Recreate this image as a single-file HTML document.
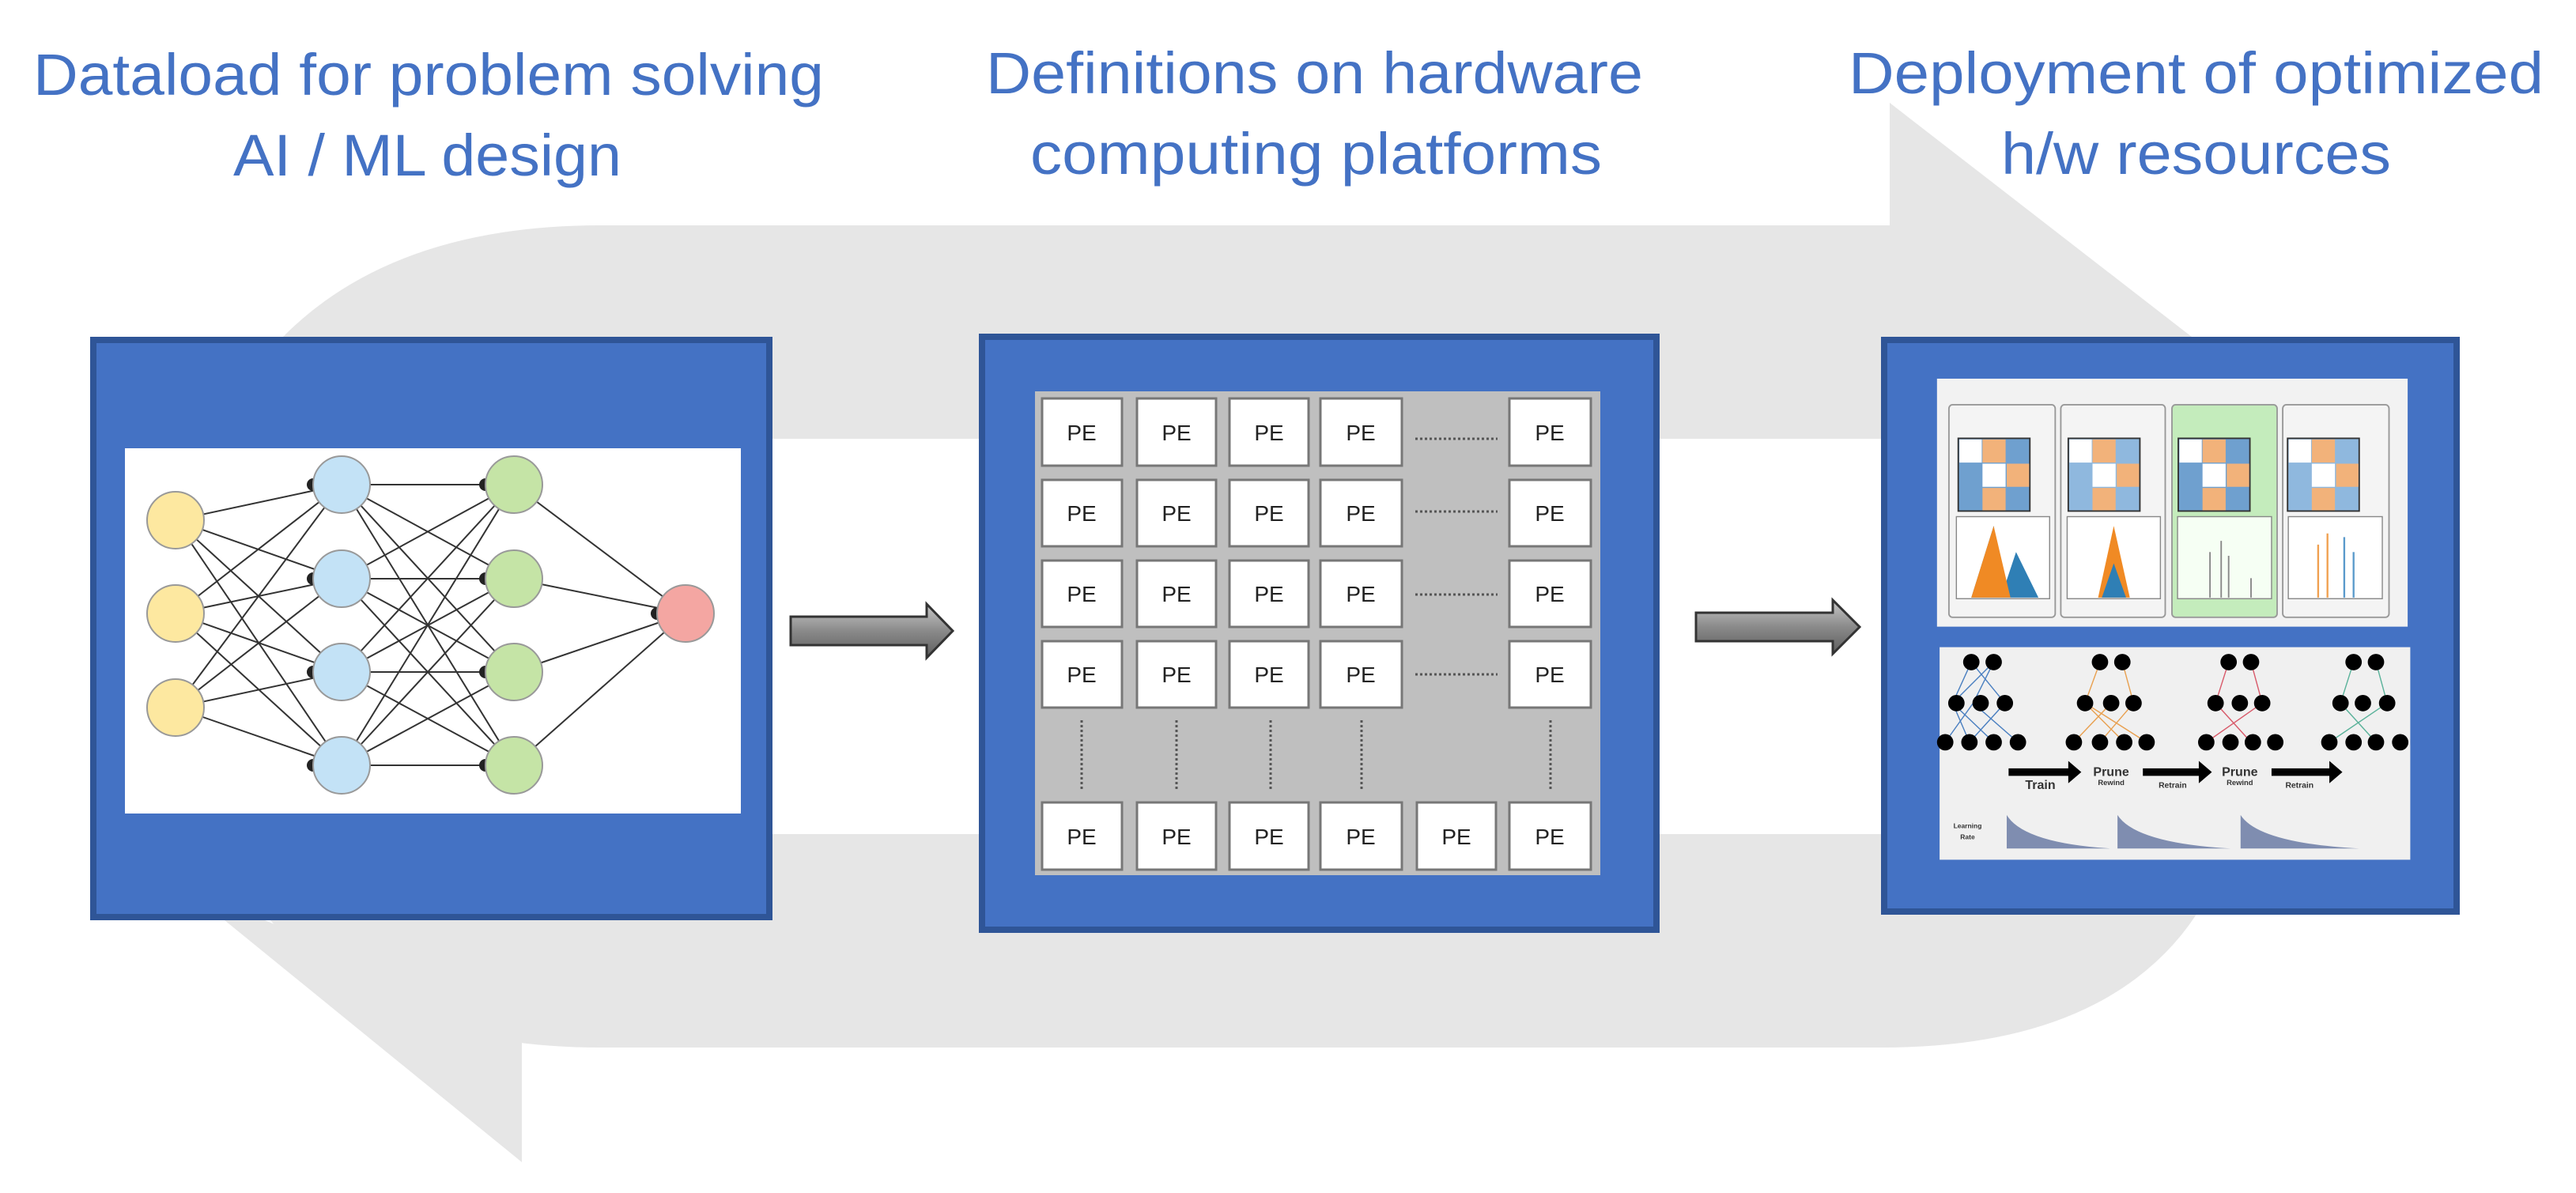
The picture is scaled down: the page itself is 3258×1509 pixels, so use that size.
<!DOCTYPE html>
<html><head><meta charset="utf-8"><style>
html,body{margin:0;padding:0;background:#fff;}
svg{display:block;}
</style></head><body>
<svg width="3258" height="1509" viewBox="0 0 3258 1509" xmlns="http://www.w3.org/2000/svg" font-family="'Liberation Sans', sans-serif">
<defs>
<linearGradient id="ag" x1="0" y1="0" x2="0" y2="1">
<stop offset="0" stop-color="#c8c8c8"/><stop offset="0.5" stop-color="#8a8a8a"/><stop offset="1" stop-color="#5e5e5e"/>
</linearGradient>
</defs>
<!-- big grey loop arrow -->
<g fill="none" stroke="#e6e6e6" stroke-width="270">
<path d="M2420 420 H760 Q360 420 360 800 Q360 1190 760 1190 H2380 Q2700 1190 2700 950"/>
</g>
<polygon points="2390,130 2790,440 2700,820 2390,760" fill="#e6e6e6"/>
<polygon points="230,1120 660,1300 660,1470" fill="#e6e6e6"/>

<!-- titles -->
<g fill="#4472C4" font-size="74">
<text x="42" y="120" textLength="1000" lengthAdjust="spacingAndGlyphs">Dataload for problem solving</text>
<text x="295" y="222" textLength="491" lengthAdjust="spacingAndGlyphs">AI / ML design</text>
<text x="1247" y="118" textLength="831" lengthAdjust="spacingAndGlyphs">Definitions on hardware</text>
<text x="1303" y="220" textLength="723" lengthAdjust="spacingAndGlyphs">computing platforms</text>
<text x="2338" y="118" textLength="879" lengthAdjust="spacingAndGlyphs">Deployment of optimized</text>
<text x="2531" y="220" textLength="493" lengthAdjust="spacingAndGlyphs">h/w resources</text>
</g>

<!-- boxes -->
<rect x="118" y="430" width="855" height="730" fill="#4472C4" stroke="#2f5597" stroke-width="8"/>
<rect x="1242" y="426" width="853" height="750" fill="#4472C4" stroke="#2f5597" stroke-width="8"/>
<rect x="2383" y="430" width="724" height="723" fill="#4472C4" stroke="#2f5597" stroke-width="8"/>

<!-- box1 neural net -->
<rect x="158" y="567" width="779" height="462" fill="#fff"/>
<g stroke="#333" stroke-width="2">
<g id="l1">
<line x1="222" y1="658" x2="432" y2="613"/><line x1="222" y1="658" x2="432" y2="732"/><line x1="222" y1="658" x2="432" y2="850"/><line x1="222" y1="658" x2="432" y2="968"/>
<line x1="222" y1="776" x2="432" y2="613"/><line x1="222" y1="776" x2="432" y2="732"/><line x1="222" y1="776" x2="432" y2="850"/><line x1="222" y1="776" x2="432" y2="968"/>
<line x1="222" y1="895" x2="432" y2="613"/><line x1="222" y1="895" x2="432" y2="732"/><line x1="222" y1="895" x2="432" y2="850"/><line x1="222" y1="895" x2="432" y2="968"/>
</g>
<line x1="432" y1="613" x2="650" y2="613"/><line x1="432" y1="613" x2="650" y2="732"/><line x1="432" y1="613" x2="650" y2="850"/><line x1="432" y1="613" x2="650" y2="968"/>
<line x1="432" y1="732" x2="650" y2="613"/><line x1="432" y1="732" x2="650" y2="732"/><line x1="432" y1="732" x2="650" y2="850"/><line x1="432" y1="732" x2="650" y2="968"/>
<line x1="432" y1="850" x2="650" y2="613"/><line x1="432" y1="850" x2="650" y2="732"/><line x1="432" y1="850" x2="650" y2="850"/><line x1="432" y1="850" x2="650" y2="968"/>
<line x1="432" y1="968" x2="650" y2="613"/><line x1="432" y1="968" x2="650" y2="732"/><line x1="432" y1="968" x2="650" y2="850"/><line x1="432" y1="968" x2="650" y2="968"/>
<line x1="650" y1="613" x2="867" y2="776"/><line x1="650" y1="732" x2="867" y2="776"/><line x1="650" y1="850" x2="867" y2="776"/><line x1="650" y1="968" x2="867" y2="776"/>
</g>
<g fill="#222">
<circle cx="396" cy="613" r="8"/><circle cx="396" cy="732" r="8"/><circle cx="396" cy="850" r="8"/><circle cx="396" cy="968" r="8"/>
<circle cx="614" cy="613" r="8"/><circle cx="614" cy="732" r="8"/><circle cx="614" cy="850" r="8"/><circle cx="614" cy="968" r="8"/>
<circle cx="831" cy="776" r="8"/>
</g>
<g stroke="#999" stroke-width="2">
<circle cx="222" cy="658" r="36" fill="#fde8a0"/><circle cx="222" cy="776" r="36" fill="#fde8a0"/><circle cx="222" cy="895" r="36" fill="#fde8a0"/>
<circle cx="432" cy="613" r="36" fill="#c3e2f6"/><circle cx="432" cy="732" r="36" fill="#c3e2f6"/><circle cx="432" cy="850" r="36" fill="#c3e2f6"/><circle cx="432" cy="968" r="36" fill="#c3e2f6"/>
<circle cx="650" cy="613" r="36" fill="#c5e4a6"/><circle cx="650" cy="732" r="36" fill="#c5e4a6"/><circle cx="650" cy="850" r="36" fill="#c5e4a6"/><circle cx="650" cy="968" r="36" fill="#c5e4a6"/>
<circle cx="867" cy="776" r="36" fill="#f4a6a2"/>
</g>

<!-- arrows -->
<polygon points="1000,780 1172,780 1172,764 1205,798 1172,832 1172,816 1000,816" fill="url(#ag)" stroke="#333" stroke-width="3"/>
<polygon points="2145,775 2318,775 2318,759 2352,793 2318,827 2318,811 2145,811" fill="url(#ag)" stroke="#333" stroke-width="3"/>

<!-- PE grid -->
<rect x="1309" y="495" width="715" height="612" fill="#bfbfbf"/>
<g fill="#fff" stroke="#777" stroke-width="3">
<rect x="1318" y="504" width="101" height="85"/><rect x="1438" y="504" width="100" height="85"/><rect x="1555" y="504" width="100" height="85"/><rect x="1670" y="504" width="103" height="85"/><rect x="1909" y="504" width="103" height="85"/>
<rect x="1318" y="607" width="101" height="84"/><rect x="1438" y="607" width="100" height="84"/><rect x="1555" y="607" width="100" height="84"/><rect x="1670" y="607" width="103" height="84"/><rect x="1909" y="607" width="103" height="84"/>
<rect x="1318" y="709" width="101" height="84"/><rect x="1438" y="709" width="100" height="84"/><rect x="1555" y="709" width="100" height="84"/><rect x="1670" y="709" width="103" height="84"/><rect x="1909" y="709" width="103" height="84"/>
<rect x="1318" y="811" width="101" height="84"/><rect x="1438" y="811" width="100" height="84"/><rect x="1555" y="811" width="100" height="84"/><rect x="1670" y="811" width="103" height="84"/><rect x="1909" y="811" width="103" height="84"/>
<rect x="1318" y="1015" width="101" height="85"/><rect x="1438" y="1015" width="100" height="85"/><rect x="1555" y="1015" width="100" height="85"/><rect x="1670" y="1015" width="103" height="85"/><rect x="1792" y="1015" width="100" height="85"/><rect x="1909" y="1015" width="103" height="85"/>
</g>
<g font-size="28" fill="#222" text-anchor="middle">
<text x="1368" y="557">PE</text><text x="1488" y="557">PE</text><text x="1605" y="557">PE</text><text x="1721" y="557">PE</text><text x="1960" y="557">PE</text>
<text x="1368" y="659">PE</text><text x="1488" y="659">PE</text><text x="1605" y="659">PE</text><text x="1721" y="659">PE</text><text x="1960" y="659">PE</text>
<text x="1368" y="761">PE</text><text x="1488" y="761">PE</text><text x="1605" y="761">PE</text><text x="1721" y="761">PE</text><text x="1960" y="761">PE</text>
<text x="1368" y="863">PE</text><text x="1488" y="863">PE</text><text x="1605" y="863">PE</text><text x="1721" y="863">PE</text><text x="1960" y="863">PE</text>
<text x="1368" y="1068">PE</text><text x="1488" y="1068">PE</text><text x="1605" y="1068">PE</text><text x="1721" y="1068">PE</text><text x="1842" y="1068">PE</text><text x="1960" y="1068">PE</text>
</g>
<g stroke="#555" stroke-width="3" stroke-dasharray="3,3">
<line x1="1790" y1="555" x2="1894" y2="555"/><line x1="1790" y1="647" x2="1894" y2="647"/><line x1="1790" y1="752" x2="1894" y2="752"/><line x1="1790" y1="853" x2="1894" y2="853"/>
<line x1="1368" y1="911" x2="1368" y2="998"/><line x1="1488" y1="911" x2="1488" y2="998"/><line x1="1607" y1="911" x2="1607" y2="998"/><line x1="1722" y1="911" x2="1722" y2="998"/><line x1="1961" y1="911" x2="1961" y2="998"/>
</g>

<!-- box3 content (zoom coords scaled) -->
<g transform="translate(2380,420) scale(0.4717)">
<rect x="148" y="125" width="1262" height="665" fill="#f2f2f2"/>
<g stroke="#999" stroke-width="4">
<rect x="180" y="195" width="285" height="570" rx="10" fill="#f4f4f4"/>
<rect x="480" y="195" width="280" height="570" rx="10" fill="#f4f4f4"/>
<rect x="778" y="195" width="282" height="570" rx="10" fill="#c4ecbc"/>
<rect x="1075" y="195" width="285" height="570" rx="10" fill="#f4f4f4"/>
</g>
<g stroke="#333" stroke-width="4">
<rect x="205" y="285" width="192" height="195" fill="#6fa0cf"/>
<rect x="500" y="285" width="192" height="195" fill="#8fb8de"/>
<rect x="795" y="285" width="192" height="195" fill="#6fa0cf"/>
<rect x="1088" y="285" width="192" height="195" fill="#8fb8de"/>
</g>
<g fill="#f2b27a">
<rect x="270" y="288" width="62" height="62"/><rect x="335" y="353" width="60" height="62"/><rect x="270" y="418" width="62" height="60"/>
<rect x="565" y="288" width="62" height="62"/><rect x="630" y="353" width="60" height="62"/><rect x="565" y="418" width="62" height="60"/>
<rect x="860" y="288" width="62" height="62"/><rect x="925" y="353" width="60" height="62"/><rect x="860" y="418" width="62" height="60"/>
<rect x="1153" y="288" width="62" height="62"/><rect x="1218" y="353" width="60" height="62"/><rect x="1153" y="418" width="62" height="60"/>
</g>
<g fill="#fff">
<rect x="208" y="288" width="60" height="62"/><rect x="270" y="353" width="62" height="62"/>
<rect x="503" y="288" width="60" height="62"/><rect x="565" y="353" width="62" height="62"/>
<rect x="798" y="288" width="60" height="62"/><rect x="860" y="353" width="62" height="62"/>
<rect x="1091" y="288" width="60" height="62"/><rect x="1153" y="353" width="62" height="62"/>
</g>
<g stroke="#888" stroke-width="3" fill="#fff">
<rect x="200" y="495" width="250" height="220"/><rect x="497" y="495" width="250" height="220"/><rect x="793" y="495" width="252" height="220" fill="#f6fff4"/><rect x="1090" y="495" width="252" height="220"/>
</g>
<path d="M240 712 L300 520 L330 680 L360 590 L420 712 Z" fill="#2f7fb5"/>
<path d="M240 712 L300 520 L345 712 Z" fill="#f08a24"/>
<path d="M580 712 L622 520 L665 712 Z" fill="#f08a24"/>
<path d="M590 712 L622 620 L655 712 Z" fill="#2f7fb5"/>
<g stroke="#888" stroke-width="4"><line x1="880" y1="712" x2="880" y2="590"/><line x1="910" y1="712" x2="910" y2="560"/><line x1="930" y1="712" x2="930" y2="600"/><line x1="990" y1="712" x2="990" y2="660"/></g>
<g stroke-width="5"><line x1="1170" y1="712" x2="1170" y2="570" stroke="#f0a050"/><line x1="1195" y1="712" x2="1195" y2="540" stroke="#f0a050"/><line x1="1240" y1="712" x2="1240" y2="550" stroke="#5a9acb"/><line x1="1265" y1="712" x2="1265" y2="590" stroke="#5a9acb"/></g>
<rect x="155" y="845" width="1262" height="570" fill="#f0f0f0"/>
<g stroke="#4a7fc0" stroke-width="3"><path d="M240 885 L190 995 M300 885 L245 995 M240 885 L330 995 M300 885 L190 995 M190 995 L300 1100 M245 995 L170 1100 M330 995 L235 1100 M245 995 L365 1100 M190 995 L235 1100"/></g>
<g stroke="#e8a050" stroke-width="3"><path d="M585 885 L545 995 M645 885 L675 995 M545 995 L650 1100 M615 995 L515 1100 M675 995 L585 1100 M545 995 L710 1100"/></g>
<g stroke="#d85a6a" stroke-width="3"><path d="M930 885 L895 995 M990 885 L1020 995 M895 995 L990 1100 M1020 995 L870 1100"/></g>
<g stroke="#5ab29a" stroke-width="3"><path d="M1265 885 L1230 995 M1325 885 L1355 995 M1230 995 L1325 1100 M1355 995 L1200 1100"/></g>
<g fill="#000">
<circle cx="240" cy="885" r="22"/><circle cx="300" cy="885" r="22"/><circle cx="200" cy="995" r="22"/><circle cx="265" cy="995" r="22"/><circle cx="330" cy="995" r="22"/><circle cx="170" cy="1100" r="22"/><circle cx="235" cy="1100" r="22"/><circle cx="300" cy="1100" r="22"/><circle cx="365" cy="1100" r="22"/>
<circle cx="585" cy="885" r="22"/><circle cx="645" cy="885" r="22"/><circle cx="545" cy="995" r="22"/><circle cx="615" cy="995" r="22"/><circle cx="675" cy="995" r="22"/><circle cx="515" cy="1100" r="22"/><circle cx="585" cy="1100" r="22"/><circle cx="650" cy="1100" r="22"/><circle cx="710" cy="1100" r="22"/>
<circle cx="930" cy="885" r="22"/><circle cx="990" cy="885" r="22"/><circle cx="895" cy="995" r="22"/><circle cx="960" cy="995" r="22"/><circle cx="1020" cy="995" r="22"/><circle cx="870" cy="1100" r="22"/><circle cx="935" cy="1100" r="22"/><circle cx="995" cy="1100" r="22"/><circle cx="1055" cy="1100" r="22"/>
<circle cx="1265" cy="885" r="22"/><circle cx="1325" cy="885" r="22"/><circle cx="1230" cy="995" r="22"/><circle cx="1290" cy="995" r="22"/><circle cx="1355" cy="995" r="22"/><circle cx="1200" cy="1100" r="22"/><circle cx="1265" cy="1100" r="22"/><circle cx="1325" cy="1100" r="22"/><circle cx="1390" cy="1100" r="22"/>
<polygon points="340,1170 500,1170 500,1150 535,1180 500,1210 500,1190 340,1190"/>
<polygon points="700,1170 850,1170 850,1150 885,1180 850,1210 850,1190 700,1190"/>
<polygon points="1045,1170 1200,1170 1200,1150 1235,1180 1200,1210 1200,1190 1045,1190"/>
</g>
<g font-size="34" font-weight="bold" fill="#333" text-anchor="middle">
<text x="425" y="1225">Train</text><text x="615" y="1190">Prune</text><text x="780" y="1222" font-size="22">Retrain</text><text x="960" y="1190">Prune</text><text x="1120" y="1222" font-size="22">Retrain</text>
<text x="615" y="1215" font-size="20">Rewind</text><text x="960" y="1215" font-size="20">Rewind</text>
<text x="230" y="1330" font-size="18">Learning</text><text x="230" y="1360" font-size="18">Rate</text>
</g>
<g fill="#7f8db0">
<path d="M335 1385 L335 1295 Q380 1370 615 1385 Z"/>
<path d="M632 1385 L632 1295 Q680 1370 935 1385 Z"/>
<path d="M962 1385 L962 1295 Q1010 1370 1280 1385 Z"/>
</g>
</g>
</svg>
</body></html>
